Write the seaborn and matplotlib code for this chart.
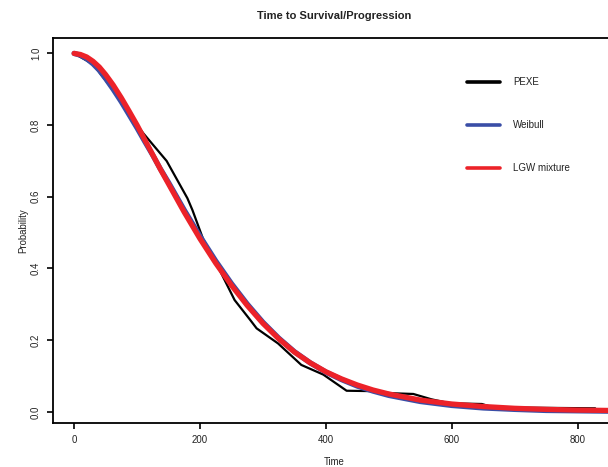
import matplotlib
matplotlib.use("Agg")
import matplotlib.pyplot as plt
import seaborn as sns
import pandas as pd
from matplotlib.lines import Line2D
from matplotlib.ticker import FormatStrFormatter

# ---- data ----
curve_time = [0, 10, 20, 30, 40, 50, 62, 75, 87, 100, 112, 125, 137, 150, 175, 200,
              225, 250, 275, 300, 325, 350, 375, 400, 425, 450, 475, 500, 550,
              600, 650, 700, 750, 800, 850]
weibull = [1.0, 0.995, 0.985, 0.971, 0.953, 0.930, 0.900, 0.865, 0.830, 0.792,
           0.755, 0.716, 0.678, 0.640, 0.563, 0.490, 0.421, 0.358, 0.301, 0.250,
           0.206, 0.168, 0.137, 0.111, 0.090, 0.072, 0.058, 0.046, 0.029,
           0.018, 0.011, 0.007, 0.004, 0.003, 0.002]
lgw_mixture = [1.0, 0.997, 0.990, 0.978, 0.962, 0.941, 0.912, 0.876, 0.840, 0.800,
               0.760, 0.717, 0.677, 0.636, 0.557, 0.483, 0.415, 0.353, 0.297, 0.247,
               0.204, 0.167, 0.137, 0.112, 0.092, 0.075, 0.061, 0.050, 0.033,
               0.022, 0.015, 0.010, 0.007, 0.005, 0.004]
pexe_time = [0, 30, 62, 85, 110, 147, 180, 188, 205, 230, 255, 280, 290, 324,
             361, 396, 433, 470, 505, 539, 568, 597, 648, 661, 700, 828]
pexe_surv = [1.0, 0.970, 0.898, 0.835, 0.777, 0.700, 0.596, 0.563, 0.482, 0.400,
             0.312, 0.256, 0.233, 0.191, 0.131, 0.104, 0.059, 0.058, 0.052, 0.050,
             0.035, 0.024, 0.022, 0.015, 0.012, 0.010]
series_names = ["PEXE", "Weibull", "LGW mixture"]
series_colors = ["#000000", "#3a4ea6", "#ec2229"]
x_ticks = [0, 200, 400, 600, 800]
y_ticks = [0.0, 0.2, 0.4, 0.6, 0.8, 1.0]

sns.set_theme(style="ticks")
plt.rcParams['font.family'] = ['Liberation Sans', 'DejaVu Sans']

W, H = 608, 467
fig = plt.figure(figsize=(W / 100, H / 100), dpi=100)
left, right, top, bottom = 53.3, 615.7, 38, 423
ax = fig.add_axes([left / W, 1 - bottom / H, (right - left) / W, (bottom - top) / H])

pexe_df = pd.DataFrame({"Time": pexe_time, "Probability": pexe_surv})
curves_df = pd.DataFrame({"Time": curve_time, "Weibull": weibull, "LGW": lgw_mixture})

sns.lineplot(data=pexe_df, x="Time", y="Probability", ax=ax, color=series_colors[0],
             lw=1.6, sort=False, estimator=None)
sns.lineplot(data=curves_df, x="Time", y="Weibull", ax=ax, color=series_colors[1],
             lw=3.8, sort=False, estimator=None, solid_capstyle='round',
             solid_joinstyle='round')
sns.lineplot(data=curves_df, x="Time", y="LGW", ax=ax, color=series_colors[2],
             lw=3.8, sort=False, estimator=None, solid_capstyle='round',
             solid_joinstyle='round')

ax.set_xlim(-33.1, 860.6)
ax.set_ylim(-0.031, 1.043)
ax.set_xticks(x_ticks)
ax.set_yticks(y_ticks)
ax.yaxis.set_major_formatter(FormatStrFormatter('%.1f'))
ax.tick_params(direction='out', length=4.3, width=1.2, labelsize=6.9, pad=4.5,
               color='black', labelcolor='#222222')
plt.setp(ax.get_yticklabels(), rotation=90, va='center')
for s in ax.spines.values():
    s.set_linewidth(1.3)
    s.set_color('black')

ax.set_xlabel("Time", fontsize=6.9, color='#222222')
ax.xaxis.set_label_coords(0.5, -(462 - bottom) / (bottom - top))
ax.xaxis.label.set_va('center')
ax.set_ylabel("Probability", fontsize=6.9, color='#222222')
ax.yaxis.set_label_coords((23 - left) / (right - left), 0.5)
ax.yaxis.label.set_va('center')

fig.text((left + right) / 2 / W, 1 - 15.7 / H, "Time to Survival/Progression",
         ha='center', va='center', fontsize=8, fontweight='bold', color='#222222')

handles = [Line2D([0], [0], color=c, lw=2.6, solid_capstyle='round') for c in series_colors]
leg = ax.legend(handles, series_names, loc='center left', frameon=False,
                bbox_to_anchor=(466.7 / W, 1 - 125 / H), bbox_transform=fig.transFigure,
                fontsize=7, handlelength=3.4, handletextpad=1.35, labelspacing=3.4,
                borderpad=0, borderaxespad=0)
for t in leg.get_texts():
    t.set_color('#222222')

fig.savefig("out.png", dpi=100)
